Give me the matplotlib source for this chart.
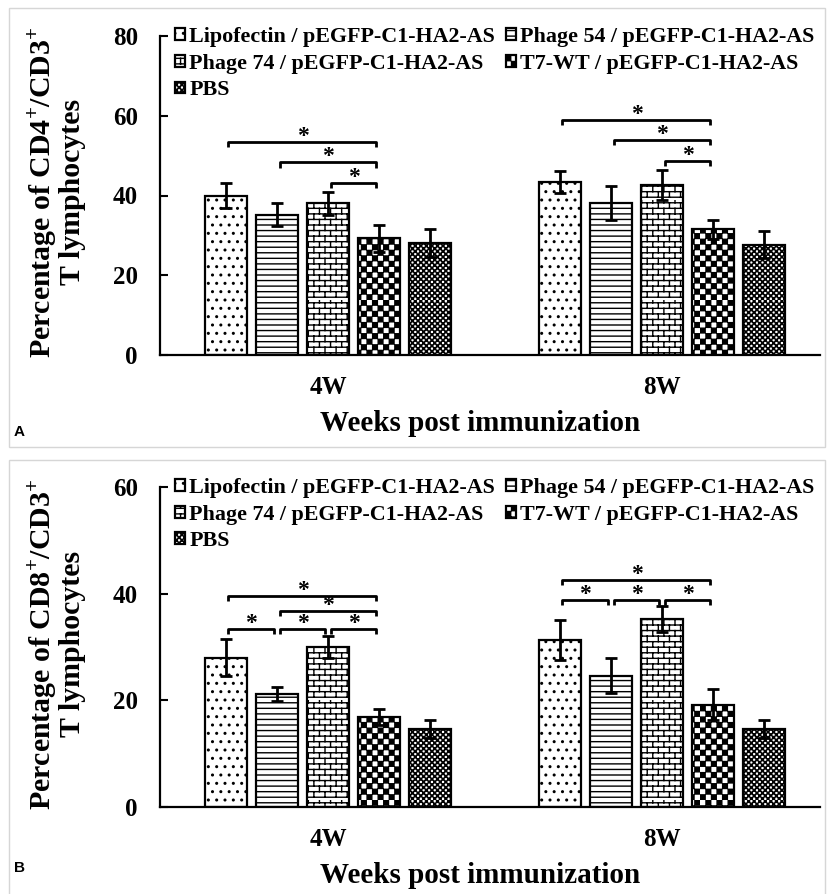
import numpy as np
import matplotlib
matplotlib.use("Agg")
import matplotlib.pyplot as plt
import matplotlib.hatch as mhatch
from matplotlib.path import Path
from matplotlib.patches import Rectangle

#Data (mean, error) per time point
groups = ["4W", "8W"]
labels = ["Lipofectin / pEGFP-C1-HA2-AS", "Phage 54 / pEGFP-C1-HA2-AS",
          "Phage 74 / pEGFP-C1-HA2-AS", "T7-WT / pEGFP-C1-HA2-AS", "PBS"]

cd4_4w = [40.0, 35.2, 38.0, 29.3, 28.2]
cd4_4w_err = [3.1, 2.9, 3.0, 3.4, 3.5]
cd4_8w = [43.4, 38.1, 42.6, 31.5, 27.7]
cd4_8w_err = [2.8, 4.3, 3.8, 2.4, 3.3]

cd8_4w = [28.0, 21.2, 30.0, 16.8, 14.7]
cd8_4w_err = [3.5, 1.3, 2.1, 1.5, 1.7]
cd8_8w = [31.3, 24.6, 35.3, 19.2, 14.6]
cd8_8w_err = [3.7, 3.3, 2.4, 2.9, 1.7]

#significance brackets: (bar i, bar j, height)
cd4_sig_4w = [(0, 3, 53.4), (1, 3, 48.3), (2, 3, 43.1)]
cd4_sig_8w = [(0, 3, 58.9), (1, 3, 53.9), (2, 3, 48.7)]
cd8_sig_4w = [(0, 3, 39.6), (1, 3, 36.7), (0, 1, 33.4), (1, 2, 33.4), (2, 3, 33.4)]
cd8_sig_8w = [(0, 3, 42.5), (0, 1, 38.8), (1, 2, 38.8), (2, 3, 38.8)]


#Custom hatches (brick and checker board), hooked on 'O' and '*'
class BrickHatch(mhatch.HatchPatternBase):
    def __init__(self, hatch, density):
        self.rows = hatch.count('O') * density
        self.cols = self.rows // 2
        self.num_vertices = (self.rows + self.rows * self.cols) * 2

    def set_vertices_and_codes(self, vertices, codes):
        k = 0
        h = 1.0 / self.rows
        w = 1.0 / self.cols
        for r in range(self.rows):
            y = (r + 0.5) * h
            vertices[k] = (0.0, y)
            vertices[k + 1] = (1.0, y)
            codes[k] = Path.MOVETO
            codes[k + 1] = Path.LINETO
            k += 2
            for c in range(self.cols):
                x = (c + 0.25 + 0.5 * (r % 2)) * w
                vertices[k] = (x, y)
                vertices[k + 1] = (x, y + h)
                codes[k] = Path.MOVETO
                codes[k + 1] = Path.LINETO
                k += 2


class CheckerHatch(mhatch.HatchPatternBase):
    def __init__(self, hatch, density):
        self.n = hatch.count('*') * density
        self.cells = [(i, j) for i in range(self.n) for j in range(self.n) if (i + j) % 2 == 0]
        self.num_vertices = len(self.cells) * 5

    def set_vertices_and_codes(self, vertices, codes):
        s = 1.0 / self.n
        e = 0.004
        for k, (i, j) in enumerate(self.cells):
            x0, y0 = i * s + e, j * s + e
            x1, y1 = (i + 1) * s - e, (j + 1) * s - e
            vertices[5 * k:5 * k + 5] = [(x0, y0), (x1, y0), (x1, y1), (x0, y1), (x0, y0)]
            codes[5 * k:5 * k + 5] = [Path.MOVETO, Path.LINETO, Path.LINETO, Path.LINETO, Path.CLOSEPOLY]


mhatch._hatch_types = [mhatch.HorizontalHatch, mhatch.VerticalHatch,
                       mhatch.NorthEastHatch, mhatch.SouthEastHatch,
                       mhatch.SmallCircles, mhatch.SmallFilledCircles,
                       BrickHatch, CheckerHatch]

hatches = ['..', '---', 'OOO', '***', '******']

plt.rcParams['font.family'] = ['Liberation Serif', 'DejaVu Serif']
plt.rcParams['font.weight'] = 'bold'
plt.rcParams['mathtext.fontset'] = 'custom'
plt.rcParams['mathtext.rm'] = 'Liberation Serif:bold'
plt.rcParams['mathtext.bf'] = 'Liberation Serif:bold'
plt.rcParams['hatch.linewidth'] = 1.0
plt.rcParams['hatch.color'] = 'black'

W, H = 827, 894
fig = plt.figure(figsize=(W / 100, H / 100), dpi=100)

STEP = 0.153
WIDTH = 0.126


def panel(rect, data, errs, sigs, ymax, ylabel, tick_len):
    ax = fig.add_axes(rect)
    x0 = np.arange(len(groups))
    bars = []
    for i in range(len(labels)):
        means = [d[i] for d in data]
        err = [e[i] for e in errs]
        xs = x0 + (i - 2) * STEP
        b = ax.bar(xs, means, WIDTH, color='white', edgecolor='black',
                   linewidth=1.6, hatch=hatches[i], label=labels[i], zorder=2)
        ax.errorbar(xs, means, yerr=err, fmt='none', ecolor='black',
                    elinewidth=2, capsize=4.5, capthick=2, zorder=3)
        bars.append(b)

    for g, glist in enumerate(sigs):
        for i, j, h in glist:
            xa = g + (i - 2) * STEP + 0.008
            xb = g + (j - 2) * STEP - 0.008
            ax.plot([xa, xa, xb, xb], [h - tick_len, h, h, h - tick_len],
                    color='black', lw=2, solid_capstyle='butt', zorder=3)
            ax.annotate('*', ((xa + xb) / 2, h), xytext=(0, -3.5),
                        textcoords='offset points', ha='center', va='bottom',
                        fontsize=17, fontweight='bold')

    ax.set_xlim(-0.503, 1.473)
    ax.set_ylim(0, ymax)
    ax.set_yticks(np.arange(0, ymax + 1, 20))
    ax.set_xticks(x0)
    ax.set_xticklabels(groups)
    ax.tick_params(axis='y', direction='in', length=6, width=1.5, pad=16, labelsize=18)
    ax.tick_params(axis='x', length=0, pad=15, labelsize=18)
    for s in ['top', 'right']:
        ax.spines[s].set_visible(False)
    for s in ['left', 'bottom']:
        ax.spines[s].set_linewidth(1.6)

    ax.set_ylabel(ylabel, fontsize=21.5, fontweight='bold', linespacing=1.0)
    ax.yaxis.set_label_coords(-0.112, 0.51)
    ax.set_xlabel("Weeks post immunization", fontsize=21, fontweight='bold')
    ax.xaxis.set_label_coords(0.485, -0.172)

    order = [0, 2, 4, 1, 3]
    h = [bars[k] for k in order]
    ax.legend(h, [labels[k] for k in order], loc='upper left',
              bbox_to_anchor=(0.023, 1.028), ncol=2, frameon=False,
              fontsize=15.8, handlelength=0.45, handleheight=0.45,
              handletextpad=0.2, columnspacing=0.5, labelspacing=0.3,
              borderpad=0, borderaxespad=0)
    return ax


panel([160 / W, 1 - 355 / H, 660 / W, 319 / H], [cd4_4w, cd4_8w], [cd4_4w_err, cd4_8w_err],
      [cd4_sig_4w, cd4_sig_8w], 80,
      "Percentage of CD4$^{\\mathbf{+}}$/CD3$^{\\mathbf{+}}$\nT lymphocytes", 1.3)
panel([160 / W, 1 - 807 / H, 660 / W, 320 / H], [cd8_4w, cd8_8w], [cd8_4w_err, cd8_8w_err],
      [cd8_sig_4w, cd8_sig_8w], 60,
      "Percentage of CD8$^{\\mathbf{+}}$/CD3$^{\\mathbf{+}}$\nT lymphocytes", 0.95)

#panel frames and letters
for top, bottom in [(8, 447), (460, 900)]:
    fig.add_artist(Rectangle((9 / W, 1 - bottom / H), (825 - 9) / W, (bottom - top) / H,
                             transform=fig.transFigure, fill=False, ec='#d6d6d6', lw=1))
fig.text(14 / W, 1 - 432 / H, "A", family='Liberation Sans', fontweight='bold',
         fontsize=11, ha='left', va='center')
fig.text(14 / W, 1 - 868 / H, "B", family='Liberation Sans', fontweight='bold',
         fontsize=11, ha='left', va='center')

fig.savefig("out.png", dpi=100)
